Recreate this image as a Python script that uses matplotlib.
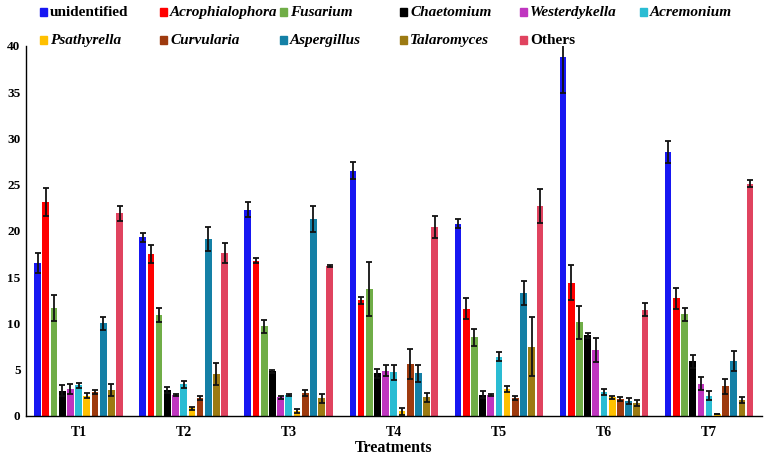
import numpy as np
import matplotlib
matplotlib.use("Agg")
import matplotlib.pyplot as plt
from matplotlib.patches import Rectangle

treatments = ["T1", "T2", "T3", "T4", "T5", "T6", "T7"]
taxa = ["unidentified", "Acrophialophora", "Fusarium", "Chaetomium", "Westerdykella",
        "Acremonium", "Psathyrella", "Curvularia", "Aspergillus", "Talaromyces", "Others"]
colors = ["#1717f2", "#ff0000", "#70ad47", "#000000", "#bf35bf", "#2abcd3",
          "#ffc000", "#9e3a0e", "#1480a6", "#9c7a12", "#e0435f"]

# rows = treatments, cols = taxa
means = np.array([
    [16.5, 23.1, 11.7, 2.7, 2.9, 3.3, 2.2, 2.6, 10.0, 2.8, 21.9],
    [19.3, 17.5, 10.9, 2.8, 2.3, 3.4, 0.8, 1.9, 19.1, 4.5, 17.6],
    [22.3, 16.8, 9.7, 4.8, 2.0, 2.3, 0.5, 2.5, 21.3, 1.9, 16.2],
    [26.5, 12.5, 13.7, 4.6, 4.9, 4.7, 0.5, 5.6, 4.6, 2.0, 20.4],
    [20.8, 11.6, 8.5, 2.3, 2.3, 6.4, 2.9, 1.9, 13.3, 7.5, 22.7],
    [38.8, 14.4, 10.1, 8.7, 7.1, 2.6, 2.0, 1.8, 1.6, 1.4, 11.5],
    [28.5, 12.7, 11.0, 5.9, 3.5, 2.2, 0.2, 3.2, 5.9, 1.7, 25.1],
])
errs = np.array([
    [1.1, 1.5, 1.4, 0.6, 0.5, 0.3, 0.3, 0.2, 0.7, 0.6, 0.8],
    [0.5, 1.0, 0.8, 0.3, 0.1, 0.4, 0.2, 0.2, 1.3, 1.2, 1.1],
    [0.8, 0.3, 0.7, 0.2, 0.2, 0.1, 0.2, 0.3, 1.4, 0.5, 0.1],
    [0.9, 0.4, 2.9, 0.5, 0.6, 0.8, 0.4, 1.6, 0.9, 0.5, 1.2],
    [0.5, 1.1, 0.9, 0.4, 0.1, 0.5, 0.3, 0.2, 1.3, 3.2, 1.8],
    [3.9, 1.9, 1.8, 0.3, 1.3, 0.3, 0.2, 0.2, 0.3, 0.3, 0.7],
    [1.2, 1.1, 0.7, 0.7, 0.7, 0.5, 0.05, 0.8, 1.1, 0.3, 0.4],
])

plt.rcParams["font.family"] = ["Liberation Serif", "DejaVu Serif"]
plt.rcParams["font.weight"] = "bold"

W, H = 767, 455
fig = plt.figure(figsize=(W / 100, H / 100), dpi=100)
ax = fig.add_axes([0.034, 0.086, 0.959, 0.813])

x = np.arange(len(treatments))
slot = 0.078
w = 0.064
for j, name in enumerate(taxa):
    pos = x + (j - 5) * slot
    ax.bar(pos, means[:, j], w, color=colors[j], label=name, zorder=2)
    ax.errorbar(pos, means[:, j], yerr=errs[:, j], fmt="none", ecolor="#111111",
                elinewidth=1.3, capsize=2.3, capthick=1.3, zorder=3)

ax.set_xlim(-0.5, 6.5)
ax.set_ylim(0, 40)
ax.set_yticks(range(0, 41, 5))
ax.set_xticks(x)
ax.set_xticklabels(treatments, fontsize=10, fontweight="bold")
for t in ax.get_yticklabels():
    t.set_fontsize(9.5)
    t.set_fontweight("bold")
ax.tick_params(axis="x", length=0, pad=7)
ax.tick_params(axis="y", length=0, pad=4)
ax.spines["top"].set_visible(False)
ax.spines["right"].set_visible(False)
ax.spines["left"].set_linewidth(1.0)
ax.spines["bottom"].set_linewidth(1.0)
ax.set_xlabel("Treatments", fontsize=11.5, fontweight="bold", labelpad=1)

# legend laid out on an even grid, two rows of six
for i, name in enumerate(taxa):
    r, c = divmod(i, 6)
    px = 40 + 120 * c
    py = 12 + 28 * r
    fig.patches.append(Rectangle((px / W, 1 - (py + 3.5) / H), 7 / W, 7 / H,
                                 transform=fig.transFigure, color=colors[i]))
    style = "normal" if name in ("unidentified", "Others") else "italic"
    fig.text((px + 10) / W, 1 - (py + 4) / H, name, fontsize=11, fontweight="bold",
             fontstyle=style, va="baseline", ha="left")

fig.savefig("out.png", dpi=100)
